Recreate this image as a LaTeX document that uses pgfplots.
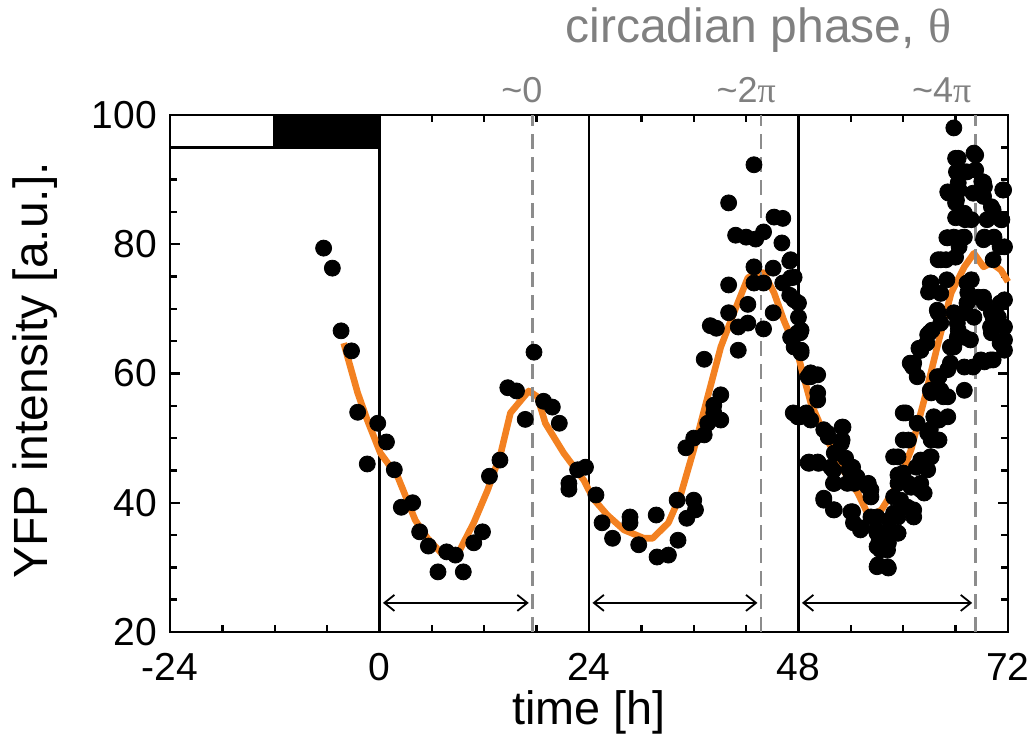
\documentclass[border=0pt]{standalone}
\usepackage{pgfplots}
\pgfplotsset{compat=1.18}
\usepackage{fontspec}
\setmainfont{Liberation Sans}
\newfontfamily\grk{Liberation Serif}
\usetikzlibrary{arrows.meta}
\definecolor{orng}{RGB}{243,129,33}
\definecolor{phgray}{RGB}{128,128,128}
\definecolor{dgray}{RGB}{140,140,140}
\begin{document}
\begin{tikzpicture}
\path[use as bounding box] (-85pt,-58pt) rectangle (432.5pt,316pt);
\begin{axis}[
 scale only axis, width=419pt, height=258.5pt,
 xmin=-24, xmax=72, ymin=20, ymax=100,
 xtick={-24,0,24,48,72},
 minor xtick={-18,-12,-6,6,12,18,30,36,42,54,60,66},
 ytick={20,40,60,80,100},
 minor ytick={25,30,35,45,50,55,65,70,75,85,90,95},
 tick align=inside,
 major tick length=5pt, minor tick length=3.5pt,
 axis line style={line width=1.4pt},
 every tick/.append style={black, line width=1.2pt},
 every minor tick/.append style={black, line width=1.2pt},
 ticklabel style={font=\fontsize{19.5}{22}\selectfont},
 xticklabel style={yshift=-7pt},
 yticklabel style={xshift=-3pt},
 /pgf/number format/assume math mode=true,
 clip=false,
]
% light/dark bar
\filldraw[fill=white, draw=black, line width=1.4pt] (axis cs:-24,95) rectangle (axis cs:-12,100);
\filldraw[fill=black, draw=black, line width=1.4pt] (axis cs:-12,95) rectangle (axis cs:0,100);
% solid vertical lines
\draw[black, line width=1.2pt] (axis cs:0,20) -- (axis cs:0,100);
\draw[black, line width=1.2pt] (axis cs:24,20) -- (axis cs:24,100);
\draw[black, line width=1.2pt] (axis cs:48,20) -- (axis cs:48,100);
% arrows
\draw[line width=0.9pt, {Straight Barb[length=5pt,width=8pt]}-{Straight Barb[length=5pt,width=8pt]}] (axis cs:0.4,24.5) -- (axis cs:17.1,24.5);
\draw[line width=0.9pt, {Straight Barb[length=5pt,width=8pt]}-{Straight Barb[length=5pt,width=8pt]}] (axis cs:24.4,24.5) -- (axis cs:43.3,24.5);
\draw[line width=0.9pt, {Straight Barb[length=5pt,width=8pt]}-{Straight Barb[length=5pt,width=8pt]}] (axis cs:48.4,24.5) -- (axis cs:67.9,24.5);
% data points
\addplot[only marks, mark=*, mark size=4pt, black] table {
x y
-6.4 79.4
-5.4 76.3
-4.4 66.6
-3.2 63.5
-2.5 54.0
-1.4 46.0
-0.2 52.3
0.8 49.4
1.7 45.1
2.5 39.3
3.8 40.0
4.6 35.5
5.6 33.3
6.7 29.3
7.7 32.4
8.7 31.9
9.6 29.3
10.8 33.8
11.8 35.5
12.6 44.1
13.8 46.6
14.7 57.8
15.7 57.3
16.7 52.9
17.7 63.3
18.8 55.7
19.8 54.8
20.6 52.3
21.7 43.0
21.7 42.1
22.7 45.1
23.6 45.5
24.8 41.2
25.5 36.9
26.7 34.5
28.7 37.8
28.7 36.9
29.7 33.5
31.7 38.1
31.8 31.6
33.1 31.9
34.2 34.2
34.1 40.4
35.2 37.6
36.0 40.4
36.2 38.9
35.1 48.5
36.0 50.0
37.2 50.5
37.6 52.3
38.3 53.9
39.1 52.8
39.1 56.7
38.3 55.1
37.2 62.2
37.9 67.4
38.6 67.0
40.0 73.7
41.1 63.6
40.0 69.4
41.1 67.2
42.2 67.8
42.2 70.7
40.0 86.4
42.9 92.3
40.8 81.4
42.0 81.1
43.1 80.8
44.0 81.9
42.9 76.5
42.9 74.0
44.0 74.0
45.1 76.3
45.1 69.4
44.0 66.9
45.2 84.2
46.2 84.0
46.1 80.2
47.0 77.4
46.2 74.0
47.1 74.8
47.0 72.1
48.0 70.9
48.0 68.7
48.3 66.7
47.1 65.6
48.3 63.6
49.1 59.5
48.0 53.3
49.1 46.2
47.1 77.6
47.5 74.9
47.5 71.4
47.9 66.3
48.3 63.2
47.5 64.1
47.9 53.3
48.9 53.9
49.4 59.5
50.2 59.8
50.2 57.0
50.2 55.9
49.4 52.8
49.2 46.3
50.2 46.3
50.9 51.3
51.4 50.2
53.1 51.7
52.9 49.2
52.1 47.7
51.7 45.5
52.1 43.0
50.9 40.7
52.1 38.9
53.4 46.9
53.8 45.1
54.4 43.0
54.2 38.6
55.2 36.1
56.0 43.0
56.3 42.0
56.3 37.8
56.9 35.8
57.2 33.8
57.1 30.4
58.3 29.9
58.3 33.8
58.0 35.3
58.4 37.3
58.9 38.4
59.4 35.3
59.4 47.1
59.4 44.3
59.7 40.4
60.3 53.9
60.6 49.7
60.9 42.4
61.5 45.5
61.2 38.9
62.0 42.0
62.4 46.6
63.2 47.1
63.2 49.7
62.8 50.8
64.1 49.7
64.1 52.8
63.5 53.3
63.2 57.0
64.3 57.4
65.1 56.4
64.1 59.5
65.1 60.6
61.1 61.0
61.8 63.9
63.0 66.3
64.0 69.4
65.8 64.1
66.3 66.7
63.2 74.0
63.2 72.9
64.0 77.6
64.9 77.6
65.1 81.0
65.8 81.1
65.1 88.1
66.1 86.8
66.3 89.5
66.1 91.2
66.3 93.3
65.8 98.0
67.0 91.2
68.1 94.1
68.3 91.5
69.2 89.6
69.3 88.9
68.0 87.9
70.1 85.8
67.0 84.8
67.8 83.8
71.4 88.4
71.2 83.8
70.4 81.1
71.6 79.6
69.3 81.1
67.0 81.1
66.4 79.6
67.8 74.5
67.4 72.5
67.0 69.4
68.6 71.8
69.3 70.9
70.1 69.4
71.6 71.4
71.6 67.2
70.9 68.7
70.1 66.3
71.6 65.2
71.6 63.6
67.0 65.6
67.0 61.0
68.0 61.0
69.3 61.8
70.3 62.1
67.0 57.4
65.1 53.3
66.0 93.3
68.3 93.8
66.2 91.2
67.3 91.2
69.0 89.7
65.2 87.9
66.4 88.4
66.0 86.4
69.2 87.4
71.5 88.4
70.3 85.3
66.0 84.1
67.1 83.8
69.6 83.8
71.3 83.8
65.0 81.0
66.6 81.0
69.2 80.7
71.1 79.6
64.3 77.6
66.0 78.0
70.3 77.6
63.1 74.0
65.0 74.5
67.3 74.0
62.9 72.6
64.3 72.4
67.3 70.9
69.2 71.8
71.1 70.9
63.9 69.8
65.8 69.4
68.1 68.7
70.3 68.7
64.3 67.8
66.2 67.8
66.2 65.6
67.7 65.2
70.0 67.2
71.1 64.7
63.3 66.7
62.7 64.7
65.4 64.1
62.0 63.6
61.2 61.6
68.9 62.1
70.0 62.1
65.4 61.6
48.2 66.3
48.2 63.6
49.4 60.1
48.2 53.3
51.3 50.8
53.0 51.7
53.0 49.7
52.5 47.7
49.2 46.1
50.3 46.1
52.0 45.0
54.2 45.5
53.6 43.0
52.0 43.0
54.7 44.0
55.9 42.5
56.3 40.9
50.9 40.4
52.0 38.9
54.0 38.6
55.1 35.8
57.0 37.8
57.0 35.3
57.0 33.2
58.2 34.7
58.2 32.7
59.4 35.3
59.4 37.8
58.9 40.9
60.5 39.3
61.2 37.8
59.4 43.0
60.6 43.0
62.0 43.0
60.0 44.6
58.9 47.1
60.0 49.7
62.0 46.6
63.1 47.1
62.8 45.1
62.4 41.5
60.0 53.9
61.6 52.3
63.9 52.8
63.1 51.3
63.9 49.7
60.8 61.6
62.0 63.6
62.8 66.0
61.6 59.5
63.1 57.4
64.6 56.4
63.9 59.5
57.4 32.7
57.0 30.1
58.2 30.1
54.3 36.9
47.4 53.9
};
% smoothed curve
\addplot[orng, line width=3.3pt, line join=round] table {
x y
-4.1 64.7
-2.5 57.0
-1.4 52.8
0.1 47.7
2.1 44.0
4.1 37.3
5.5 34.5
7.3 31.9
8.9 31.9
10.8 36.9
12.4 42.0
13.9 47.7
15.0 53.9
17.1 57.3
18.1 56.4
19.0 52.3
21.1 47.7
23.4 43.5
24.5 40.6
26.1 38.1
28.0 35.8
30.3 34.5
31.3 34.5
33.1 36.9
34.5 41.2
36.0 48.2
37.6 56.4
39.1 64.1
40.6 69.4
42.2 74.8
42.9 75.4
44.0 75.6
45.2 72.5
46.3 68.3
47.9 63.2
48.3 61.0
49.4 55.5
50.9 50.8
52.9 45.5
54.8 41.5
56.1 37.8
57.5 38.9
59.4 43.0
60.9 48.2
62.4 55.9
64.0 64.7
65.5 72.5
67.0 76.5
68.1 78.6
69.2 76.5
70.1 77.1
71.2 76.0
72.0 74.2
};
% dashed phase lines
\draw[dgray, line width=1.3pt, dash pattern=on 7.5pt off 4pt] (axis cs:17.5,20) -- (axis cs:17.5,100);
\draw[dgray, line width=1.3pt, dash pattern=on 7.5pt off 4pt] (axis cs:43.7,20) -- (axis cs:43.7,100);
\draw[dgray, line width=1.3pt, dash pattern=on 7.5pt off 4pt] (axis cs:68.3,20) -- (axis cs:68.3,100);
% labels
\node[rotate=90, font=\fontsize{24}{28}\selectfont] at (axis cs:-39.5,60.5) {YFP intensity [a.u.].};
\node[font=\fontsize{23.4}{27}\selectfont] at (axis cs:24,7.5) {time [h]};
\node[phgray, font=\fontsize{24}{28}\selectfont] at (axis cs:43.4,113.2) {circadian phase, {\grk θ}};
\node[phgray, font=\fontsize{18}{21}\selectfont] at (axis cs:16.3,103.9) {\textasciitilde 0};
\node[phgray, font=\fontsize{18}{21}\selectfont] at (axis cs:42.0,103.9) {\textasciitilde 2{\grk π}};
\node[phgray, font=\fontsize{18}{21}\selectfont] at (axis cs:64.4,103.9) {\textasciitilde 4{\grk π}};
\end{axis}
\end{tikzpicture}
\end{document}
